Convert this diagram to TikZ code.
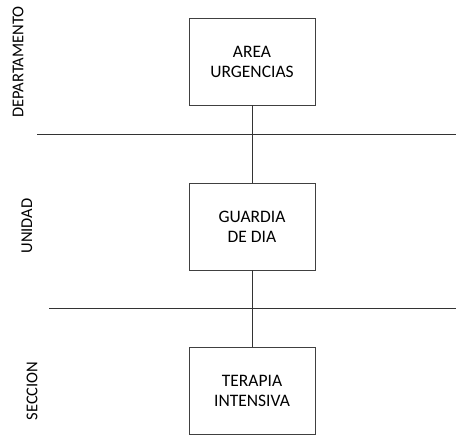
\documentclass[tikz,border=0pt]{standalone}
\usepackage{fontspec}
\setmainfont{Carlito}
\begin{document}
\begin{tikzpicture}[x=1pt,y=-1pt,
    nivel/.style={draw=black!75,line width=0.9pt,minimum width=126pt,minimum height=87pt,
      align=center,font=\fontsize{17.5}{20}\selectfont,inner sep=0pt},
    rotulo/.style={rotate=90,font=\fontsize{16.5}{18}\selectfont,inner sep=0pt}]
      \useasboundingbox (0,0) rectangle (456,436);
      \draw
        (252,61.5) node[nivel] (area){AREA\\URGENCIAS}
        (252,226.5) node[nivel] (guardia){GUARDIA\\DE DIA}
        (252,391) node[nivel] (terapia){TERAPIA\\INTENSIVA};
      \draw
        (18,62) node[rotulo] (dep){DEPARTAMENTO}
        (27,226) node[rotulo] (uni){UNIDAD}
        (32,391) node[rotulo] (sec){SECCION};
      \coordinate (l1a) at (37,134);
      \coordinate (l1b) at (456,134);
      \coordinate (l2a) at (49,308);
      \coordinate (l2b) at (456,308);
      \begin{scope}[-,line width=0.9pt,black!80]
        \draw (area) to (guardia);
        \draw (guardia) to (terapia);
        \draw (l1a) to (l1b);
        \draw (l2a) to (l2b);
      \end{scope}
    \end{tikzpicture}
\end{document}
